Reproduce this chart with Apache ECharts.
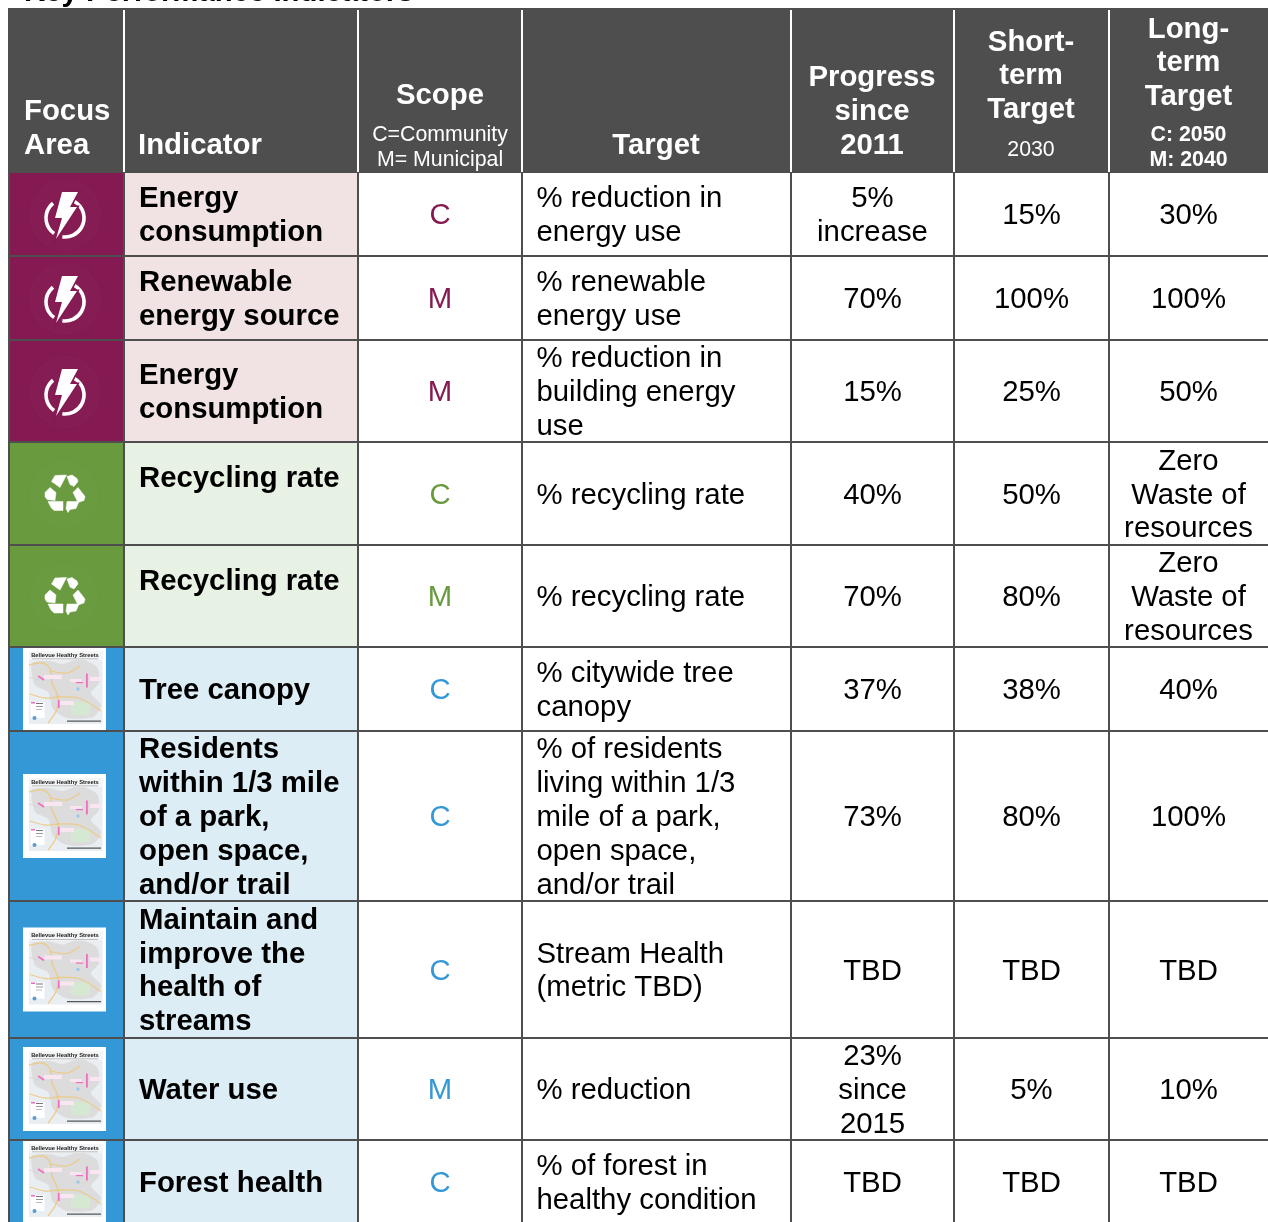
<!DOCTYPE html>
<html><head><meta charset="utf-8">
<style>html,body{margin:0;padding:0;background:#fff}#c{width:1268px;height:1222px}</style>
<script src="https://cdn.jsdelivr.net/npm/echarts@6/dist/echarts.min.js"></script>
</head><body><div id="c"></div>
<script>
// ---- table content ----
const tableTitle = 'Key Performance Indicators';
const focusAreas = ['energy','energy','energy','waste','waste','nature','nature','nature','nature','nature'];
const indicators = ['Energy\nconsumption','Renewable\nenergy source','Energy\nconsumption','Recycling rate','Recycling rate','Tree canopy','Residents\nwithin 1/3 mile\nof a park,\nopen space,\nand/or trail','Maintain and\nimprove the\nhealth of\nstreams','Water use','Forest health'];
const scopes = ['C','M','M','C','M','C','C','C','M','C'];
const targets = ['% reduction in\nenergy use','% renewable\nenergy use','% reduction in\nbuilding energy\nuse','% recycling rate','% recycling rate','% citywide tree\ncanopy','% of residents\nliving within 1/3\nmile of a park,\nopen space,\nand/or trail','Stream Health\n(metric TBD)','% reduction','% of forest in\nhealthy condition'];
const progress = ['5%\nincrease','70%','15%','40%','70%','37%','73%','TBD','23%\nsince\n2015','TBD'];
const shortTerm = ['15%','100%','25%','50%','80%','38%','80%','TBD','5%','TBD'];
const longTerm = ['30%','100%','50%','Zero\nWaste of\nresources','Zero\nWaste of\nresources','40%','100%','TBD','10%','TBD'];
const headerFocus = ['Focus','Area'];
const headerIndicator = ['Indicator'];
const headerScope = ['Scope','C=Community','M= Municipal'];
const headerTarget = ['Target'];
const headerProgress = ['Progress','since','2011'];
const headerShort = ['Short-','term','Target','2030'];
const headerLong = ['Long-','term','Target','C: 2050','M: 2040'];

// ---- layout constants (table grid in axis units) ----
const colEdges = [9,124,358,522,791,954,1109,1268];
const rowEdges = [172,256,340,442,545,647,731,901,1038,1140,1224];
const colCentres = {1:440,3:872.5,4:1031.5,5:1188.5};
const headerTop = 8;
const LH = 33.8;
const BASE = 29.33;
const SMALL = 21.33;
const FONT = '"Liberation Sans",Arial,sans-serif';
const palette = {
  energy:{main:'#851a52',pale:'#f1e3e4'},
  waste:{main:'#6a9a3e',pale:'#e7f1e4'},
  nature:{main:'#3498d6',pale:'#dcedf5'}
};
const DARK='#4e4e4e';

const xAxis={type:'value',min:0,max:1268,show:false};
const yAxis={type:'value',min:0,max:1222,inverse:true,show:false};
const grid={left:0,right:0,top:0,bottom:0};

function P(api,x,y){return api.coord([x,y]);}
function rectEl(api,x0,y0,x1,y1,fill){
  const a=P(api,x0,y0),b=P(api,x1,y1);
  return {type:'rect',shape:{x:a[0],y:a[1],width:b[0]-a[0],height:b[1]-a[1]},style:{fill:fill}};
}
function textEl(api,x,y,text,o){
  const p=P(api,x,y);
  return {type:'text',x:p[0],y:p[1],style:{x:0,y:0,text:text,fill:o.fill||'#000',align:o.align||'center',verticalAlign:'middle',lineHeight:o.lh||LH,font:(o.bold?'bold ':'')+(o.size||BASE)+'px '+FONT}};
}
const rad=d=>d*Math.PI/180;
function ring(a0,a1){
  return {type:'arc',shape:{cx:0,cy:3,r:19,startAngle:rad(a0),endAngle:rad(a1),clockwise:true},style:{fill:null,stroke:'#fff',lineWidth:3.6}};
}
// icon drawings, local pixel units around the centre
function boltIcon(){
  const bolt=[[-3,-23],[13,-23],[5,-8],[12,-8],[-9,24],[-3,3],[-10,3]];
  return [
   {type:'circle',shape:{cx:0,cy:0,r:35},style:{fill:'rgba(255,255,255,0.012)',stroke:'rgba(255,255,255,0.02)',lineWidth:1}},
   ring(125,231),
   ring(-60,98),
   {type:'polygon',shape:{points:bolt},style:{fill:palette.energy.main,stroke:palette.energy.main,lineWidth:3}},
   {type:'polygon',shape:{points:bolt},style:{fill:'#fff'}}
  ];
}
function recycleIcon(){
  const pieces=[
    [[-10,-18],[1.5,-18.5],[-5,-6],[-13.5,-12]],
    [[2,-17],[7,-18.5],[12,-15],[13,-12],[9,-7],[5,-9]],
    [[13,-6],[20,3],[19,7],[13,9],[8,-1]],
    [[-20,-1],[-15,-6],[-9,-1],[-10,7],[-18,6],[-20,3]],
    [[-17,8],[-2,8],[-2,17],[-11,17],[-14,14]],
    [[2,8],[14,8],[11,15],[5,16],[3,19],[1,15]]
  ];
  const out=[{type:'circle',shape:{cx:-1,cy:1,r:35},style:{fill:'rgba(255,255,255,0.012)',stroke:'rgba(0,0,0,0.02)',lineWidth:1}}];
  pieces.forEach(p=>out.push({type:'polygon',shape:{points:p},style:{fill:'#fff',stroke:'#fff',lineWidth:.5,lineJoin:'round'}}));
  return out;
}
function poly(pts,c,w){return {type:'polyline',shape:{points:pts,smooth:.3},style:{fill:null,stroke:c,lineWidth:w,opacity:.9}};}
function box(x,y,w,h,c){return {type:'rect',shape:{x:x,y:y,width:w,height:h},style:{fill:c}};}
function mapIcon(){
  const road='#edc97f', pink='#f06cbe';
  return [
    box(0,0,83,84,'#fff'),
    box(6,4,73.5,73,'#e9eef3'),
    {type:'polygon',shape:{points:[[9,16],[26,14],[40,17],[56,12],[74,20],[76,36],[68,46],[78,58],[70,70],[44,71],[30,62],[25,45],[12,38]],smooth:.25},style:{fill:'#dcdcdd'}},
    {type:'polygon',shape:{points:[[48,54],[68,56],[66,68],[48,68]]},style:{fill:'#d5e8d2'}},
    box(6,4,73.5,9,'#f4f5f6'),
    poly([[6,18],[20,16],[27,22],[29,36],[35,50],[33,64],[25,76]],road,1.3),
    poly([[7,47],[22,51],[35,50],[56,51],[78,64]],road,1.3),
    poly([[28,24],[44,26],[57,19]],road,1.2),
    poly([[6,30],[16,33]],'#cfcfcf',.8),
    box(21,28,18,4,'#f9e6f0'), box(67,30,11,4,'#f9e6f0'), box(36,54,15,4,'#f9e6f0'), box(47,32,12,3,'#f9e6f0'),
    box(63,26.5,1.8,14,pink),
    {type:'line',shape:{x1:15,y1:29,x2:21,y2:33},style:{stroke:pink,lineWidth:1.6}},
    box(35,53,1.6,8,pink), box(53,35,7,1.2,pink),
    box(7.5,55,14,16,'#ffffff'), box(8,55,4,1.5,pink), box(13,56,7,1,'#777'), box(13,59,7,1,'#999'), box(13,62,6,1,'#bbb'),
    {type:'circle',shape:{cx:11.5,cy:71,r:2},style:{fill:'#5a9bd0'}},
    box(44,73.5,34,1.2,'#555'),
    {type:'circle',shape:{cx:55,cy:42,r:1.7},style:{fill:'#9cc8ee'}},
    {type:'text',x:42,y:8,style:{text:'Bellevue Healthy Streets',font:'bold 5.8px '+FONT,fill:'#222',align:'center',verticalAlign:'middle'}},
    box(9,11.5,66,.8,'#aaa')
  ];
}

// ---- cell fills + icons ----
function renderFocus(params,api){
  const r=api.value(0), key=focusAreas[r], pal=palette[key];
  const y0=rowEdges[r], y1=rowEdges[r+1], cy=(y0+y1)/2;
  const children=[rectEl(api,colEdges[0],y0,colEdges[1],y1,pal.main),rectEl(api,colEdges[1],y0,colEdges[2],y1,pal.pale)];
  const c=key==='nature'?P(api,23,cy-42):key==='energy'?P(api,65,cy+1):P(api,65,cy);
  const icon=key==='energy'?boltIcon():key==='waste'?recycleIcon():mapIcon();
  children.push({type:'group',x:c[0],y:c[1],children:icon});
  return {type:'group',children:children};
}
// ---- grid lines ----
const gridLines=[];
colEdges.slice(0,7).forEach(x=>gridLines.push({v:[x,172,x,1224],c:DARK}));
rowEdges.slice(0,10).forEach(y=>gridLines.push({v:[9,y,1268,y],c:DARK}));
colEdges.slice(1,7).forEach(x=>gridLines.push({v:[x,10,x,172],c:'#fff'}));
function renderLine(params,api){
  const i=api.value(0), g=gridLines[i], a=P(api,g.v[0],g.v[1]), b=P(api,g.v[2],g.v[3]);
  return {type:'line',shape:{x1:a[0],y1:a[1],x2:b[0],y2:b[1]},style:{stroke:g.c,lineWidth:2}};
}
// ---- cell text ----
const columns=[indicators,scopes,targets,progress,shortTerm,longTerm];
function renderCell(params,api){
  const col=api.value(0), r=api.value(1);
  const y0=rowEdges[r], y1=rowEdges[r+1];
  let cy=(y0+y1)/2+2, x, o={};
  if(col===0){x=139;o={bold:true,align:'left'};
    if(indicators[r]==='Recycling rate') cy=y0+37;
  }
  else if(col===2){x=536.5;o={align:'left'};}
  else {x=colCentres[col];}
  if(col===1){o.fill=palette[focusAreas[r]].main;}
  return textEl(api,x,cy,columns[col][r],o);
}
// ---- header text: [text, x, y, align, bold, size] per line ----
const W='#fff';
const headerRuns=[
 [headerFocus[0],24,112,'left',1,BASE],[headerFocus[1],24,146,'left',1,BASE],
 [headerIndicator[0],138,146,'left',1,BASE],
 [headerScope[0],440,96,'center',1,BASE],[headerScope[1],440,135,'center',0,SMALL],[headerScope[2],440,160,'center',0,SMALL],
 [headerTarget[0],656,146,'center',1,BASE],
 [headerProgress[0],872,78,'center',1,BASE],[headerProgress[1],872,112,'center',1,BASE],[headerProgress[2],872,146,'center',1,BASE],
 [headerShort[0],1031,43,'center',1,BASE],[headerShort[1],1031,76,'center',1,BASE],[headerShort[2],1031,110,'center',1,BASE],[headerShort[3],1031,150,'center',0,SMALL],
 [headerLong[0],1188.5,30,'center',1,BASE],[headerLong[1],1188.5,63,'center',1,BASE],[headerLong[2],1188.5,97,'center',1,BASE],[headerLong[3],1188.5,135,'center',1,SMALL],[headerLong[4],1188.5,160,'center',1,SMALL]
];
function renderHeader(params,api){
  const h=headerRuns[api.value(0)];
  return textEl(api,h[1],h[2],h[0],{fill:W,align:h[3],bold:!!h[4],size:h[5]});
}
function renderHeaderBg(params,api){return rectEl(api,8,headerTop,1268,172,DARK);}

const chart=echarts.init(document.getElementById('c'),null,{renderer:'canvas'});
const cellData=[];
columns.forEach((c,ci)=>c.forEach((_,r)=>cellData.push([ci,r])));
const noAxisEncode={x:-1,y:-1};
chart.setOption({
  animation:false,
  backgroundColor:'#fff',
  title:{text:tableTitle,left:24,top:-22,padding:0,textStyle:{fontFamily:FONT,fontWeight:'bold',fontSize:29.33,color:'#000'}},
  tooltip:{show:false},
  grid:grid,xAxis:xAxis,yAxis:yAxis,
  series:[
    {type:'custom',silent:true,clip:false,z:1,renderItem:renderHeaderBg,data:[[0]],encode:noAxisEncode},
    {type:'custom',silent:true,clip:false,z:2,renderItem:renderFocus,data:focusAreas.map((_,i)=>[i]),encode:noAxisEncode},
    {type:'custom',silent:true,clip:false,z:3,renderItem:renderLine,data:gridLines.map((_,i)=>[i]),encode:noAxisEncode},
    {type:'custom',silent:true,clip:false,z:4,renderItem:renderHeader,data:headerRuns.map((_,i)=>[i]),encode:noAxisEncode},
    {type:'custom',silent:true,clip:false,z:5,renderItem:renderCell,data:cellData,encode:noAxisEncode}
  ]
});
</script></body></html>
